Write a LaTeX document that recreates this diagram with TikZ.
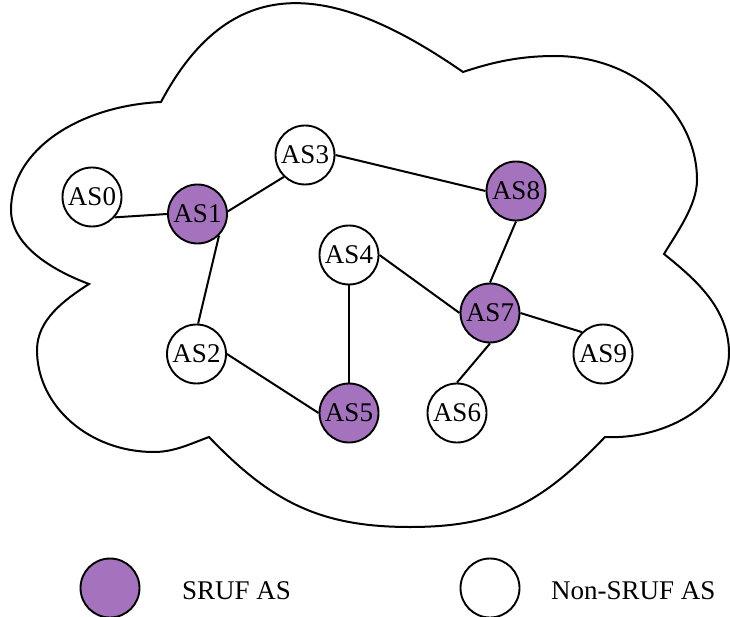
\documentclass[tikz,border=0pt]{standalone}
\usepackage{fontspec}
\setmainfont{Liberation Serif}
\definecolor{sruf}{RGB}{165,114,189}
\begin{document}
\begin{tikzpicture}[x=1pt,y=-1pt,
  asnode/.style={circle,draw=black,line width=1.9pt,minimum size=59pt,inner sep=0pt,
    font=\fontsize{27}{27}\selectfont},
  srufnode/.style={asnode,fill=sruf},
  plainnode/.style={asnode,fill=white},
  link/.style={line width=2pt},
  legendtext/.style={anchor=base west,inner sep=0pt,font=\fontsize{27}{27}\selectfont},
  cloudline/.style={line width=2pt,line join=miter}]
\useasboundingbox (0,0) rectangle (730,617);

% cloud outline: six lobes meeting in sharp cusps
\draw[cloudline]
  (161,102) .. controls (233.7,-34.9) and (338,-14.6) .. (463,72)
  .. controls (493,62) and (520,56) .. (555,56)
  .. controls (633.4,56) and (697,111.6) .. (697,180)
  .. controls (697,205) and (677,232.5) .. (664,254)
  .. controls (695,279) and (729,308) .. (729,353)
  .. controls (729,402) and (668,440) .. (605,437)
  .. controls (542.9,501.8) and (500,527) .. (410,527)
  .. controls (320,527) and (271.1,501.8) .. (209,437)
  .. controls (190,444) and (174,452) .. (154,452)
  .. controls (89.4,452) and (37,406.3) .. (37,350)
  .. controls (37,320) and (63.8,300.2) .. (89,284)
  .. controls (51.4,270) and (11,245) .. (11,210)
  .. controls (11,150.4) and (78.2,106) .. (161,102)
  -- cycle;

% autonomous systems
\node[plainnode] (as0) at (92,197)    {AS0};
\node[srufnode]  (as1) at (197.5,214) {AS1};
\node[plainnode] (as3) at (305,155)   {AS3};
\node[srufnode]  (as8) at (516,191)   {AS8};
\node[plainnode] (as4) at (349,255)   {AS4};
\node[srufnode]  (as7) at (490,313)   {AS7};
\node[plainnode] (as2) at (196.5,354) {AS2};
\node[srufnode]  (as5) at (349,413)   {AS5};
\node[plainnode] (as6) at (457,413)   {AS6};
\node[plainnode] (as9) at (603,354)   {AS9};

% peering links between connection points
\draw[link] (as0.-42)  -- (as1.west);
\draw[link] (as1.5)    -- (as3.226);
\draw[link] (as1.-45)  -- (as2.87);
\draw[link] (as3.east) -- (as8.west);
\draw[link] (as8.south) -- (as7.north);
\draw[link] (as4.east) -- (as7.west);
\draw[link] (as4.south) -- (as5.north);
\draw[link] (as2.east) -- (as5.west);
\draw[link] (as7.east) -- (as9.134);
\draw[link] (as7.south) -- (as6.north);

% legend
\node[srufnode]  (legsruf)  at (110,588) {};
\node[plainnode] (legplain) at (490,588) {};
\node[legendtext] (legsruftxt)  at (182,599) {SRUF AS};
\node[legendtext] (legplaintxt) at (551,599) {Non-SRUF AS};
\end{tikzpicture}
\end{document}
